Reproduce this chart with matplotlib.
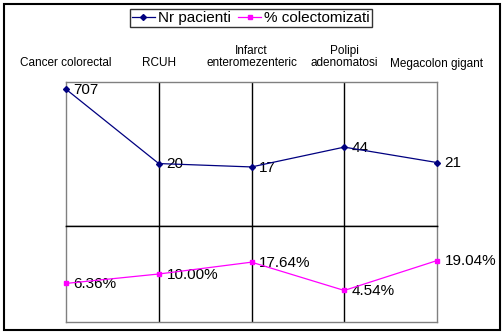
import matplotlib
matplotlib.use("Agg")
import matplotlib.pyplot as plt
from matplotlib.patches import Rectangle

plt.rcParams['font.family'] = ['Liberation Sans', 'DejaVu Sans']

categories = ["Cancer colorectal", "RCUH", "Infarct\nenteromezenteric",
              "Polipi\nadenomatosi", "Megacolon gigant"]
nr_pacienti = [707, 20, 17, 44, 21]
pct_colectomizati = [6.36, 10.00, 17.64, 4.54, 19.04]
pct_labels = ["6.36%", "10.00%", "17.64%", "4.54%", "19.04%"]

navy = "#000080"
magenta = "#FF00FF"
grey = "#808080"

fig = plt.figure(figsize=(5.04, 3.35), dpi=100)
fig.patches.append(Rectangle((4 / 504, 5 / 335), 496 / 504, 326 / 335,
                             transform=fig.transFigure, fill=False,
                             edgecolor="black", linewidth=1.5))

ax_top = fig.add_axes([66 / 504, 1 - 226 / 335, 371 / 504, 144 / 335])
ax_bot = fig.add_axes([66 / 504, 1 - 322 / 335, 371 / 504, 96 / 335])

x = list(range(len(categories)))

l1, = ax_top.plot(x, nr_pacienti, color=navy, lw=0.9, marker="D", ms=3,
                  clip_on=False, zorder=5, label="Nr pacienti")
l2, = ax_bot.plot(x, pct_colectomizati, color=magenta, lw=0.9, marker="s", ms=3.5,
                  clip_on=False, zorder=5, label="% colectomizati")

ax_top.set_yscale("log")
ax_top.set_ylim(1, 1000)
ax_bot.set_yscale("log")
ax_bot.set_ylim(1, 100)

for ax in (ax_top, ax_bot):
    ax.set_xlim(0, len(categories) - 1)
    ax.set_yticks([])
    ax.minorticks_off()
    ax.tick_params(axis="y", which="both", left=False, labelleft=False)
    for k in range(1, len(categories) - 1):
        ax.axvline(k, color="black", lw=1, zorder=1)
    for s in ax.spines.values():
        s.set_color(grey)
        s.set_linewidth(1)

ax_top.spines["bottom"].set_color("black")
ax_bot.spines["top"].set_color("black")

ax_top.xaxis.tick_top()
ax_top.set_xticks(x)
ax_top.set_xticklabels(categories, fontsize=8.5, linespacing=1.1)
ax_top.tick_params(axis="x", length=0, pad=9)
ax_bot.set_xticks([])

for xi, v in zip(x, nr_pacienti):
    ax_top.annotate(str(v), (xi, v), xytext=(5.5, -0.5), textcoords="offset points",
                    va="center", ha="left", fontsize=11, annotation_clip=False)
for xi, v, t in zip(x, pct_colectomizati, pct_labels):
    ax_bot.annotate(t, (xi, v), xytext=(5.5, -0.5), textcoords="offset points",
                    va="center", ha="left", fontsize=11, annotation_clip=False)

leg = fig.legend(handles=[l1, l2], loc="center", bbox_to_anchor=(251 / 504, 1 - 18 / 335),
                 ncol=2, fontsize=11, frameon=True, fancybox=False, edgecolor="black",
                 handlelength=1.5, handletextpad=0.2, columnspacing=0.5,
                 borderpad=0.15, borderaxespad=0)
leg.get_frame().set_linewidth(1)

fig.savefig("out.png", dpi=100)
